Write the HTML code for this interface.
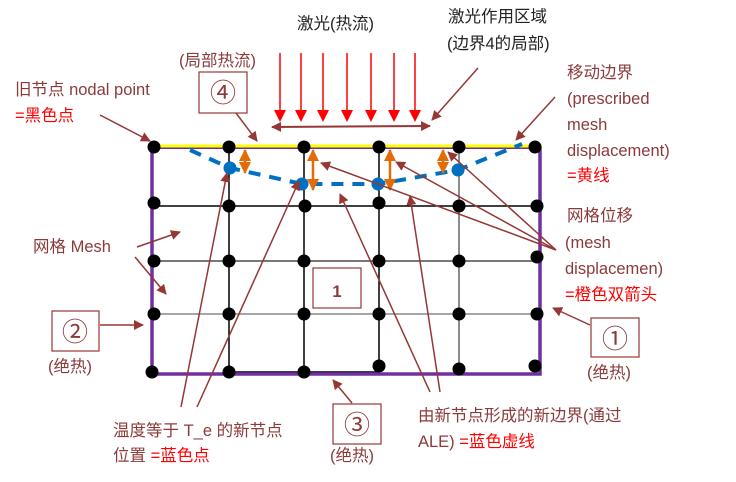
<!DOCTYPE html>
<html><head><meta charset="utf-8"><style>
html,body{margin:0;padding:0;background:#fff;}
svg{display:block;}
text{font-family:"Liberation Sans","Noto Sans CJK SC",sans-serif;font-size:16.5px;}
.b{fill:#8B3A3A;}
.r{fill:#ff0000;}
.k{fill:#222;}
</style></head><body>
<svg width="736" height="482" viewBox="0 0 736 482" xmlns="http://www.w3.org/2000/svg">
<defs>
<marker id="br" markerWidth="10" markerHeight="10" refX="9" refY="5" orient="auto" markerUnits="userSpaceOnUse"><path d="M0,0 L10,5 L0,10 z" fill="#953735"/></marker>
<marker id="brs" markerWidth="10" markerHeight="10" refX="1" refY="5" orient="auto" markerUnits="userSpaceOnUse"><path d="M10,0 L0,5 L10,10 z" fill="#953735"/></marker>
<marker id="ra" markerWidth="12" markerHeight="12" refX="10" refY="6" orient="auto" markerUnits="userSpaceOnUse"><path d="M0,0 L12,6 L0,12 z" fill="#ff0000"/></marker>
<marker id="oa" markerWidth="12" markerHeight="12" refX="11" refY="6" orient="auto-start-reverse" markerUnits="userSpaceOnUse"><path d="M0,0 L12,6 L0,12 z" fill="#e36c09"/></marker>
</defs>

<g stroke="#000" stroke-width="1.5" fill="none">
<line x1="229" y1="147" x2="229" y2="372"/>
<line x1="304" y1="147" x2="304" y2="372"/>
<line x1="379" y1="147" x2="379" y2="372"/>
<line x1="459" y1="147" x2="459" y2="372" stroke="#666"/>
<line x1="154" y1="206" x2="537" y2="206"/>
<line x1="154" y1="261" x2="537" y2="261" stroke="#777" stroke-width="2"/>
<line x1="154" y1="314" x2="537" y2="314" stroke="#888"/>
<line x1="229" y1="372" x2="379" y2="372"/>
</g>
<g stroke="#7030a0" stroke-width="3.5" fill="none">
<polyline points="152,147 152,374 540,374 540,147"/>
<line x1="152" y1="148" x2="540" y2="148" stroke-width="2"/>
</g>
<line x1="150" y1="146" x2="542" y2="146" stroke="#ffff00" stroke-width="3"/>

<path d="M190,150 L230,168 L302,184 L378,184 L458,170 L522,144" fill="none" stroke="#0070c0" stroke-width="4" stroke-dasharray="12,9"/>

<g fill="#000">
<circle cx="154" cy="147" r="6.5"/><circle cx="229" cy="147" r="6.5"/><circle cx="304" cy="147" r="6.5"/><circle cx="379" cy="147" r="6.5"/><circle cx="459" cy="147" r="6.5"/><circle cx="535" cy="147" r="6.5"/>
<circle cx="154" cy="203" r="6.5"/><circle cx="229" cy="206" r="6.5"/><circle cx="305" cy="206" r="6.5"/><circle cx="379" cy="203" r="6.5"/><circle cx="459" cy="206" r="6.5"/><circle cx="537" cy="206" r="6.5"/>
<circle cx="154" cy="261" r="6.5"/><circle cx="229" cy="261" r="6.5"/><circle cx="304" cy="261" r="6.5"/><circle cx="379" cy="261" r="6.5"/><circle cx="459" cy="261" r="6.5"/><circle cx="537" cy="257" r="6.5"/>
<circle cx="154" cy="314" r="6.5"/><circle cx="229" cy="314" r="6.5"/><circle cx="304" cy="314" r="6.5"/><circle cx="379" cy="314" r="6.5"/><circle cx="459" cy="314" r="6.5"/><circle cx="537" cy="314" r="6.5"/>
<circle cx="152" cy="372" r="6.5"/><circle cx="229" cy="372" r="6.5"/><circle cx="304" cy="372" r="6.5"/><circle cx="379" cy="366" r="6.5"/><circle cx="459" cy="369" r="6.5"/><circle cx="535" cy="366" r="6.5"/>
</g>
<g fill="#0070c0">
<circle cx="230" cy="168" r="6.5"/><circle cx="302" cy="184" r="6.5"/><circle cx="378" cy="184" r="6.5"/><circle cx="458" cy="170" r="6.5"/>
</g>

<g stroke="#e36c09" stroke-width="2.5" marker-start="url(#oa)" marker-end="url(#oa)">
<line x1="245" y1="150" x2="245" y2="173"/>
<line x1="313" y1="150" x2="313" y2="190"/>
<line x1="390" y1="150" x2="390" y2="190"/>
<line x1="443" y1="150" x2="443" y2="173"/>
</g>

<g stroke="#ff0000" stroke-width="1.5" marker-end="url(#ra)">
<line x1="280" y1="53" x2="280" y2="120"/>
<line x1="301" y1="53" x2="301" y2="120"/>
<line x1="323" y1="53" x2="323" y2="120"/>
<line x1="347" y1="53" x2="347" y2="120"/>
<line x1="371" y1="53" x2="371" y2="120"/>
<line x1="394" y1="53" x2="394" y2="120"/>
<line x1="415" y1="53" x2="415" y2="120"/>
</g>
<line x1="272" y1="127" x2="430" y2="126" stroke="#953735" stroke-width="2" marker-start="url(#brs)" marker-end="url(#br)"/>

<g stroke="#953735" stroke-width="1.5" marker-end="url(#br)" fill="none">
<line x1="478" y1="68" x2="432" y2="120"/>
<line x1="236" y1="113" x2="257" y2="141"/>
<line x1="100" y1="115" x2="150" y2="141"/>
<line x1="555" y1="97" x2="516" y2="140"/>
<line x1="137" y1="247" x2="180" y2="232"/>
<line x1="135" y1="257" x2="166" y2="294"/>
<line x1="100" y1="325" x2="143" y2="325"/>
<line x1="590" y1="325" x2="553" y2="308"/>
<line x1="352" y1="403" x2="333" y2="380"/>
<line x1="556" y1="250" x2="321" y2="163"/>
<line x1="556" y1="250" x2="396" y2="162"/>
<line x1="556" y1="250" x2="448" y2="152"/>
<line x1="181" y1="407" x2="227" y2="173"/>
<line x1="197" y1="407" x2="299" y2="181"/>
<line x1="430" y1="392" x2="340" y2="194"/>
<line x1="440" y1="392" x2="410" y2="196"/>
</g>

<g fill="#fff" stroke="#953735" stroke-width="1.2">
<rect x="199" y="72" width="48" height="41"/>
<rect x="313" y="268" width="48" height="40"/>
<rect x="52" y="311" width="47" height="40"/>
<rect x="591" y="318" width="48" height="39"/>
<rect x="333" y="404" width="48" height="40"/>
</g>
<text x="223" y="102" class="b" style="font-size:26px" text-anchor="middle">④</text>
<text x="337" y="297" class="b" font-weight="bold" text-anchor="middle">1</text>
<text x="75" y="341" class="b" style="font-size:26px" text-anchor="middle">②</text>
<text x="615" y="348" class="b" style="font-size:26px" text-anchor="middle">①</text>
<text x="357" y="434" class="b" style="font-size:26px" text-anchor="middle">③</text>

<text x="297" y="29" class="k">激光(热流)</text>
<text x="448" y="22" class="k">激光作用区域</text>
<text x="447" y="49" class="k">(边界4的局部)</text>
<text x="179" y="66" class="b">(局部热流)</text>
<text x="15" y="95" class="b">旧节点 nodal point</text>
<text x="15" y="121" class="r">=黑色点</text>
<text x="567" y="78" class="b">移动边界</text>
<text x="567" y="104" class="b">(prescribed</text>
<text x="567" y="130" class="b">mesh</text>
<text x="567" y="156" class="b">displacement)</text>
<text x="567" y="181" class="r">=黄线</text>
<text x="567" y="221" class="b">网格位移</text>
<text x="565" y="248" class="b">(mesh</text>
<text x="565" y="274" class="b">displacemen)</text>
<text x="565" y="300" class="r">=橙色双箭头</text>
<text x="33" y="252" class="b">网格 Mesh</text>
<text x="48" y="372" class="b">(绝热)</text>
<text x="587" y="378" class="b">(绝热)</text>
<text x="330" y="461" class="b">(绝热)</text>
<text x="113" y="436" class="b">温度等于 T_e 的新节点</text>
<text x="113" y="461" class="b">位置 <tspan class="r">=蓝色点</tspan></text>
<text x="418" y="421" class="b">由新节点形成的新边界(通过</text>
<text x="418" y="447" class="b">ALE) <tspan class="r">=蓝色虚线</tspan></text>
</svg>
</body></html>
